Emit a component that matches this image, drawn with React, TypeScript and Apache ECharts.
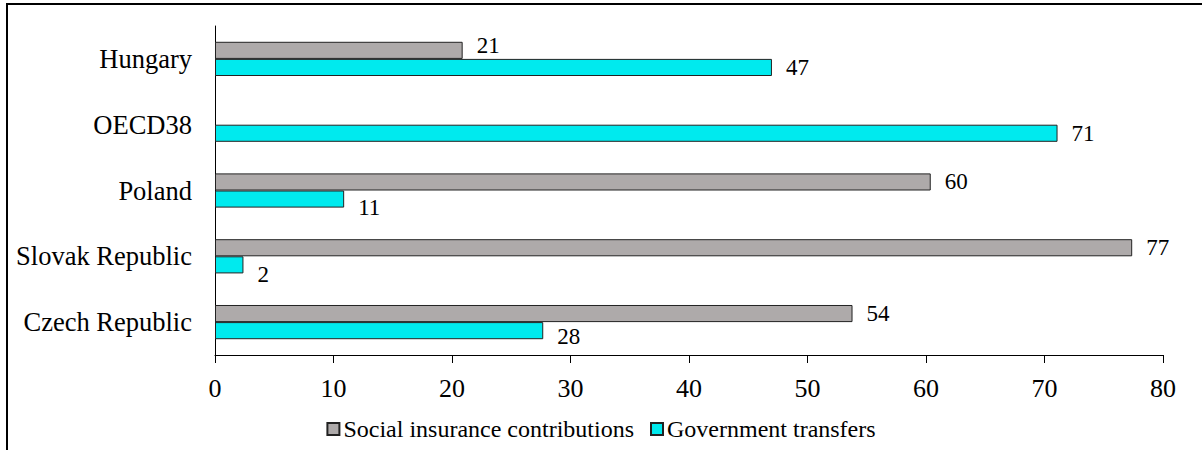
import React, { useEffect, useRef } from "react";
import * as echarts from "echarts";

const categories = ["Hungary", "OECD38", "Poland", "Slovak Republic", "Czech Republic"];
const socialInsurance: (number | null)[] = [20.9, null, 60.4, 77.4, 53.8];
const governmentTransfers: number[] = [47.0, 71.1, 10.9, 2.4, 27.7];
const seriesNames = ["Social insurance contributions", "Government transfers"];
const xTicks = { min: 0, max: 80, interval: 10 };

// label vertical nudges (layout only)
const socialLabelShift = [-5, 0, 0, 0, 0];
const transferLabelShift = [0, 0, 8, 10, 6];

const FONT = "'Liberation Serif', 'Times New Roman', serif";

export default function App() {
  const ref = useRef<HTMLDivElement>(null);
  useEffect(() => {
    if (!ref.current) return;
    const chart = echarts.init(ref.current, undefined, { renderer: "svg" });
    const mk = (vals: (number | null)[], shifts: number[]) =>
      vals.map((v, i) => ({
        value: v === null ? "-" : v,
        label: { offset: [0, shifts[i]] },
      }));
    const labelBase = {
      show: true,
      position: "right",
      distance: 14,
      color: "#000",
      fontFamily: FONT,
      fontSize: 23,
      formatter: (p: any) => String(Math.round(p.value)),
    };
    chart.setOption({
      animation: false,
      backgroundColor: "#fff",
      textStyle: { fontFamily: FONT },
      graphic: [
        {
          type: "rect",
          shape: { x: 7, y: 4, width: 1400, height: 700 },
          style: { fill: "none", stroke: "#000", lineWidth: 2 },
          silent: true,
        },
      ],
      grid: { left: 215, right: 39, top: 26, bottom: 95, containLabel: false },
      legend: {
        bottom: 4,
        left: "center",
        icon: "rect",
        itemWidth: 12,
        itemHeight: 12,
        itemGap: 16,
        textStyle: { fontFamily: FONT, fontSize: 24, color: "#000", padding: [0, 0, 0, -1] },
        data: seriesNames,
      },
      xAxis: {
        type: "value",
        min: xTicks.min,
        max: xTicks.max,
        interval: xTicks.interval,
        splitLine: { show: false },
        axisLine: { show: true, lineStyle: { color: "#000", width: 1 } },
        axisTick: { show: true, length: 8, lineStyle: { color: "#000" } },
        axisLabel: { fontFamily: FONT, fontSize: 26, color: "#000", margin: 20 },
      },
      yAxis: {
        type: "category",
        inverse: true,
        data: categories,
        axisLine: { show: true, lineStyle: { color: "#000", width: 1 } },
        axisTick: { show: false },
        axisLabel: { fontFamily: FONT, fontSize: 26.5, color: "#000", margin: 23 },
      },
      series: [
        {
          name: seriesNames[0],
          type: "bar",
          data: mk(socialInsurance, socialLabelShift),
          barGap: "0%",
          barCategoryGap: "48%",
          itemStyle: { color: "#aeaaaa", borderColor: "#222", borderWidth: 1 },
          label: labelBase,
        },
        {
          name: seriesNames[1],
          type: "bar",
          data: mk(governmentTransfers, transferLabelShift),
          barGap: "0%",
          barCategoryGap: "48%",
          itemStyle: { color: "#00eaee", borderColor: "#222", borderWidth: 1 },
          label: labelBase,
        },
      ],
    });
    return () => chart.dispose();
  }, []);
  return (
    <div
      ref={ref}
      style={{ position: "absolute", left: 0, top: 0, width: 1202, height: 450 }}
    />
  );
}
